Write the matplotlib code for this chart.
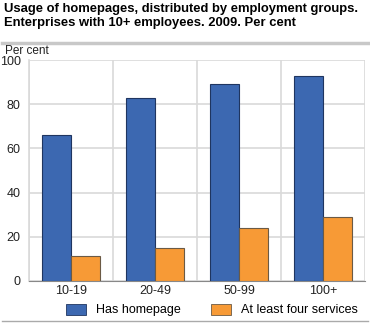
import matplotlib
matplotlib.use("Agg")
import matplotlib.pyplot as plt
import numpy as np
from matplotlib.lines import Line2D

categories = ["10-19", "20-49", "50-99", "100+"]
has_homepage = [66, 83, 89, 93]
four_services = [11, 15, 24, 29]
series_names = ["Has homepage", "At least four services"]
yticks = [0, 20, 40, 60, 80, 100]

W, H = 370, 325
fig = plt.figure(figsize=(W / 100, H / 100), dpi=100)
plt.rcParams['font.family'] = ['Arial', 'Liberation Sans', 'DejaVu Sans']

def fx(px):
    return px / W

def fy(py):
    return 1 - py / H

left, right, top, bottom = 29, 365, 60.2, 280.7
ax = fig.add_axes([fx(left), fy(bottom), fx(right - left), (bottom - top) / H])

x = np.arange(len(categories))
w = 0.35
blue = "#3c68b1"
orange = "#f79a36"
ax.bar(x - w / 2, has_homepage, w, color=blue, edgecolor="#1f3560", linewidth=0.8, zorder=3)
ax.bar(x + w / 2, four_services, w, color=orange, edgecolor="#6b5a45", linewidth=0.8, zorder=3)

ax.set_xlim(-0.5, len(categories) - 0.5)
ax.set_ylim(0, 100)
ax.set_yticks(yticks)
ax.set_xticks(x)
ax.set_xticklabels(categories)
ax.set_xticks(np.arange(len(categories) + 1) - 0.5, minor=True)
ax.grid(axis="y", which="major", color="#d9d9d9", linewidth=1.2, zorder=0)
ax.grid(axis="x", which="minor", color="#d9d9d9", linewidth=1.2, zorder=0)
ax.tick_params(axis="both", which="both", length=0, labelsize=9, colors="#222222")
ax.tick_params(axis="y", pad=6)
ax.tick_params(axis="x", pad=3)
for s in ["top", "right"]:
    ax.spines[s].set_visible(False)
ax.spines["left"].set_color("#d9d9d9")
ax.spines["bottom"].set_color("#888888")
ax.spines["left"].set_linewidth(1.2)

fig.text(fx(4), fy(3), "Usage of homepages, distributed by employment groups.\nEnterprises with 10+ employees. 2009. Per cent",
         fontsize=9.4, fontweight="bold", va="top", ha="left", linespacing=1.25, color="#000000")
fig.add_artist(Line2D([fx(2), fx(368)], [fy(43), fy(43)], color="#c8c8c8", linewidth=2.5))
fig.text(fx(5), fy(51), "Per cent", fontsize=8.5, va="center", ha="left", color="#222222")
fig.add_artist(Line2D([fx(2), fx(368)], [fy(321), fy(321)], color="#aaaaaa", linewidth=1.0))

handles = [plt.Rectangle((0, 0), 1, 1, facecolor=blue, edgecolor="#1f3560", linewidth=0.6),
           plt.Rectangle((0, 0), 1, 1, facecolor=orange, edgecolor="#6b5a45", linewidth=0.6)]
fig.legend(handles, series_names, loc="center", bbox_to_anchor=(fx(212), fy(310)), ncol=2,
           frameon=False, fontsize=9, handlelength=1.6, handleheight=1.0, columnspacing=2.4,
           handletextpad=0.8, borderaxespad=0)

fig.savefig("out.png", dpi=100)
